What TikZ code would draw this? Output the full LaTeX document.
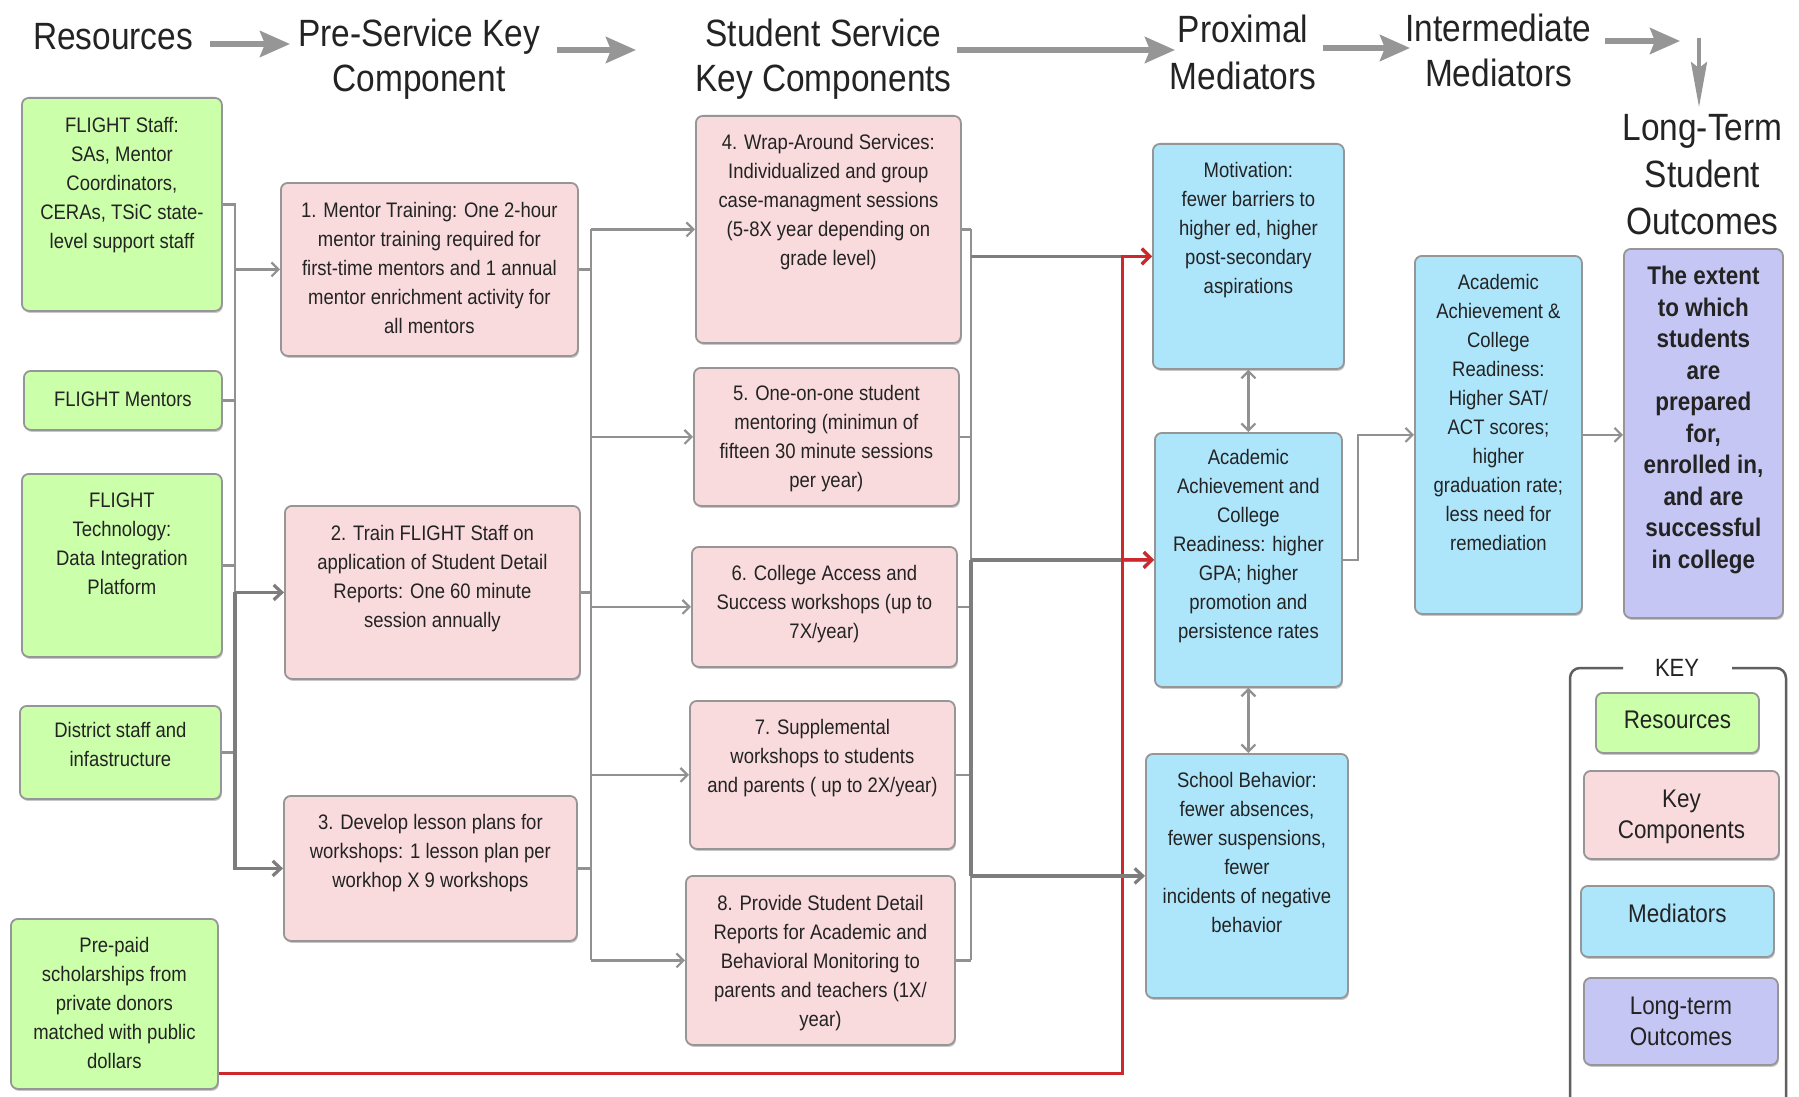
\documentclass[tikz,border=0pt]{standalone}
\usepackage{fontspec}
\setmainfont{Liberation Sans}[FakeStretch=0.88]
\usetikzlibrary{arrows.meta,shadows,calc}
\definecolor{resg}{RGB}{204,255,170}
\definecolor{kcp}{RGB}{249,219,221}
\definecolor{medb}{RGB}{173,229,251}
\definecolor{outp}{RGB}{197,198,243}
\definecolor{bord}{RGB}{150,150,150}
\definecolor{lng}{RGB}{145,145,145}
\definecolor{lngd}{RGB}{125,125,125}
\definecolor{hdrarr}{RGB}{150,150,150}
\definecolor{redl}{RGB}{205,40,45}
\definecolor{txtc}{RGB}{35,35,35}
\definecolor{framec}{RGB}{95,95,95}
\begin{document}
\begin{tikzpicture}[x=1pt,y=-1pt,
  box/.style={draw=bord, line width=1.8pt, rounded corners=7pt, anchor=north west, inner sep=0pt,
    drop shadow={shadow xshift=1pt, shadow yshift=-2pt, fill=black, opacity=0.22}},
  res/.style={box, fill=resg},
  kc/.style={box, fill=kcp},
  med/.style={box, fill=medb},
  outc/.style={box, fill=outp},
  txt/.style={anchor=north, inner sep=0pt, align=center, text=txtc, font=\fontsize{21}{29}\selectfont},
  otxt/.style={anchor=north, inner sep=0pt, align=center, text=txtc, font=\fontsize{25.5}{31.5}\selectfont\bfseries},
  ktxt/.style={anchor=north, inner sep=0pt, align=center, text=txtc, font=\fontsize{25.5}{31}\selectfont},
  hdr/.style={anchor=north, inner sep=0pt, align=center, text=txtc, font=\fontsize{38}{45}\selectfont},
  ln/.style={draw=lng, line width=2.2pt},
  lnthick/.style={draw=lngd, line width=3.2pt},
  arr/.style={ln, -{Straight Barb[length=7pt,width=14pt]}},
  arrthick/.style={lnthick, -{Straight Barb[length=8pt,width=15pt]}},
  dbl/.style={ln, {Straight Barb[length=7pt,width=14pt]}-{Straight Barb[length=7pt,width=14pt]}},
  redarr/.style={draw=redl, line width=3pt, -{Straight Barb[length=8pt,width=16pt]}},
  harr/.style={draw=hdrarr, line width=5.5pt, -{Stealth[length=30pt,width=26pt,inset=5pt]}},
  varr/.style={draw=hdrarr, line width=3.5pt, -{Stealth[length=45pt,width=16pt,inset=6pt]}},
  frm/.style={draw=framec, line width=2.5pt, rounded corners=10pt}
]
\fill[white] (0,0) rectangle (1799,1097);
\useasboundingbox (0,0) rectangle (1799,1097);

% ---------- headers ----------
\node[hdr] (h1) at (113,23.4) {Resources};
\node[hdr] (h2) at (419,18.4) {Pre-Service Key\\Component};
\node[hdr] (h3) at (823.5,18.4) {Student Service\\Key Components};
\node[hdr, font=\fontsize{38}{47}\selectfont] (h4) at (1243,14.4) {Proximal\\Mediators};
\node[hdr] (h5) at (1498.5,13.4) {Intermediate\\Mediators};
\node[hdr, font=\fontsize{38}{47}\selectfont] (h6) at (1702.5,114.4) {Long-Term\\Student\\Outcomes};

\coordinate (a1s) at (210,44);  \coordinate (a1e) at (290,44);
\coordinate (a2s) at (557,50);  \coordinate (a2e) at (636,50);
\coordinate (a3s) at (957,50);  \coordinate (a3e) at (1175,50);
\coordinate (a4s) at (1323,48); \coordinate (a4e) at (1410,48);
\coordinate (a5s) at (1605,41); \coordinate (a5e) at (1680,41);
\coordinate (a6s) at (1699,38); \coordinate (a6e) at (1699,107);
\draw[harr] (a1s) -- (a1e);
\draw[harr] (a2s) -- (a2e);
\draw[harr] (a3s) -- (a3e);
\draw[harr] (a4s) -- (a4e);
\draw[harr] (a5s) -- (a5e);
\draw[varr] (a6s) -- (a6e);

% ---------- resources ----------
\node[res, minimum width=200pt, minimum height=213pt] (r1) at (21,97) {};
\node[res, minimum width=198pt, minimum height=59pt] (r2) at (23,370) {};
\node[res, minimum width=200pt, minimum height=183pt] (r3) at (21,473) {};
\node[res, minimum width=201pt, minimum height=93pt] (r4) at (19,705) {};
\node[res, minimum width=207pt, minimum height=170pt] (r5) at (10,918) {};
\node[txt] (r1t) at ([yshift=-20.5pt]r1.north) {FLIGHT Staff:\\SAs, Mentor\\Coordinators,\\CERAs, TSiC state-\\level support staff};
\node[txt] (r2t) at ([yshift=-21.5pt]r2.north) {FLIGHT Mentors};
\node[txt] (r3t) at ([yshift=-19.5pt]r3.north) {FLIGHT\\Technology:\\Data Integration\\Platform};
\node[txt] (r4t) at ([yshift=-17.5pt]r4.north) {District staff and\\infastructure};
\node[txt] (r5t) at ([yshift=-19.5pt]r5.north) {Pre-paid\\scholarships from\\private donors\\matched with public\\dollars};

% ---------- key components ----------
\node[kc, minimum width=297pt, minimum height=173pt] (k1) at (280,182) {};
\node[kc, minimum width=295pt, minimum height=173pt] (k2) at (284,505) {};
\node[kc, minimum width=293pt, minimum height=145pt] (k3) at (283,795) {};
\node[kc, minimum width=265pt, minimum height=227pt] (k4) at (695,115) {};
\node[kc, minimum width=265pt, minimum height=138pt] (k5) at (693,367) {};
\node[kc, minimum width=265pt, minimum height=120pt] (k6) at (691,546) {};
\node[kc, minimum width=265pt, minimum height=148pt] (k7) at (689,700) {};
\node[kc, minimum width=269pt, minimum height=169pt] (k8) at (685,875) {};
\node[txt] (k1t) at ([yshift=-20.5pt]k1.north) {1. Mentor Training: One 2-hour\\mentor training required for\\first-time mentors and 1 annual\\mentor enrichment  activity for\\all mentors};
\node[txt] (k2t) at ([yshift=-20.5pt]k2.north) {2. Train FLIGHT Staff on\\application of Student Detail\\Reports: One 60 minute\\session  annually};
\node[txt] (k3t) at ([yshift=-19.5pt]k3.north) {3. Develop lesson plans for\\workshops: 1 lesson plan per\\workhop X 9 workshops};
\node[txt] (k4t) at ([yshift=-19.5pt]k4.north) {4. Wrap-Around Services:\\Individualized and group\\case-managment sessions\\(5-8X year depending on\\grade level)};
\node[txt] (k5t) at ([yshift=-18.5pt]k5.north) {5. One-on-one student\\mentoring (minimun of\\fifteen 30 minute sessions\\per year)};
\node[txt] (k6t) at ([yshift=-19.5pt]k6.north) {6. College Access and\\Success workshops (up to\\7X/year)};
\node[txt] (k7t) at ([yshift=-19.5pt]k7.north) {7. Supplemental\\workshops  to  students\\and parents ( up to 2X/year)};
\node[txt] (k8t) at ([yshift=-20.5pt]k8.north) {8. Provide Student Detail\\Reports for Academic and\\Behavioral Monitoring to\\parents and teachers  (1X/\\year)};

% ---------- mediators ----------
\node[med, minimum width=191pt, minimum height=225pt] (m1) at (1152,143) {};
\node[med, minimum width=187pt, minimum height=254pt] (m2) at (1154,432) {};
\node[med, minimum width=202pt, minimum height=244pt] (m3) at (1145,753) {};
\node[med, minimum width=167pt, minimum height=358pt] (m4) at (1414,255) {};
\node[outc, minimum width=159pt, minimum height=369pt] (o1) at (1623,248) {};
\node[txt] (m1t) at ([yshift=-19.5pt]m1.north) {Motivation:\\fewer barriers to\\higher ed,  higher\\post-secondary\\aspirations};
\node[txt] (m2t) at ([yshift=-17.5pt]m2.north) {Academic\\Achievement and\\College\\Readiness: higher\\GPA; higher\\promotion and\\persistence rates};
\node[txt] (m3t) at ([yshift=-19.5pt]m3.north) {School Behavior:\\fewer absences,\\fewer suspensions,\\fewer\\incidents of negative\\behavior};
\node[txt] (m4t) at ([yshift=-19.5pt]m4.north) {Academic\\Achievement \&\\College\\Readiness:\\Higher SAT/\\ACT scores;\\higher\\graduation rate;\\less need for\\remediation};
\node[otxt] (o1t) at ([yshift=-18pt]o1.north) {The extent\\to which\\students\\are\\prepared\\for,\\enrolled in,\\and are\\successful\\in college};

% ---------- connectors ----------
\coordinate (b1) at (235,0);
\coordinate (b2) at (591,0);
\coordinate (b3) at (971,0);
\coordinate (rx) at (1122,0);

\draw[ln] (r1.east) -| (k2.west -| b1);
\draw[ln] (r2.east) -- (r2.east -| b1);
\draw[ln] (r3.east) -- (r3.east -| b1);
\draw[ln] (r4.east) -- (r4.east -| b1);
\draw[arr] (k1.west -| b1) -- (k1.west);
\draw[arrthick] (k2.west -| b1) -- (k2.west);
\draw[arrthick] (k2.west -| b1) -- (k3.west -| b1) -- (k3.west);

\draw[ln] (k1.east) -- (k1.east -| b2);
\draw[ln] (k2.east) -- (k2.east -| b2);
\draw[ln] (k3.east) -- (k3.east -| b2);
\draw[ln] (k4.west -| b2) -- (k8.west -| b2);
\draw[arr] (k4.west -| b2) -- (k4.west);
\draw[arr] (k5.west -| b2) -- (k5.west);
\draw[arr] (k6.west -| b2) -- (k6.west);
\draw[arr] (k7.west -| b2) -- (k7.west);
\draw[arr] (k8.west -| b2) -- (k8.west);

\draw[ln] (k4.east) -- (k4.east -| b3);
\draw[ln] (k5.east) -- (k5.east -| b3);
\draw[ln] (k6.east) -- (k6.east -| b3);
\draw[ln] (k7.east) -- (k7.east -| b3);
\draw[ln] (k8.east) -- (k8.east -| b3);
\draw[ln] (k4.east -| b3) -- (k8.east -| b3);
\draw[lnthick] (m2.west -| b3) -- (m3.west -| b3);
\draw[arrthick] (m1.west -| b3) -- (m1.west);
\draw[arrthick] (m2.west -| b3) -- (m2.west);

\draw[redarr] ([yshift=16pt]r5.south east) -| (m1.west -| rx) -- (m1.west);
\draw[redarr] (m2.west -| rx) -- (m2.west);
\draw[arrthick] (m3.west -| b3) -- (m3.west);

\draw[dbl] (m1.south) -- (m2.north);
\draw[dbl] (m2.south) -- (m2.south |- m3.north);
\draw[arr] (m2.east) -- ++(15,0) |- (m4.west);
\draw[arr] (m4.east) -- (m4.east -| o1.west);

% ---------- key ----------
\node[ktxt, anchor=center, font=\fontsize{25}{30}\selectfont] (keyl) at (1677,668) {KEY};
\draw[frm] (1623,668) -- (1570,668) -- (1570,1140);
\draw[frm] (1732,668) -- (1786,668) -- (1786,1140);
\node[res, minimum width=163pt, minimum height=60pt] (kr) at (1595,692) {};
\node[kc, minimum width=195pt, minimum height=88pt] (kk) at (1583,770) {};
\node[med, minimum width=193pt, minimum height=71pt] (km) at (1580,885) {};
\node[outc, minimum width=194pt, minimum height=87pt] (ko) at (1583,977) {};
\node[ktxt] (krt) at ([yshift=-19pt]kr.north) {Resources};
\node[ktxt] (kkt) at ([yshift=-20pt]kk.north) {Key\\Components};
\node[ktxt] (kmt) at ([yshift=-19pt]km.north) {Mediators};
\node[ktxt] (kot) at ([yshift=-20pt]ko.north) {Long-term\\Outcomes};
\end{tikzpicture}
\end{document}
